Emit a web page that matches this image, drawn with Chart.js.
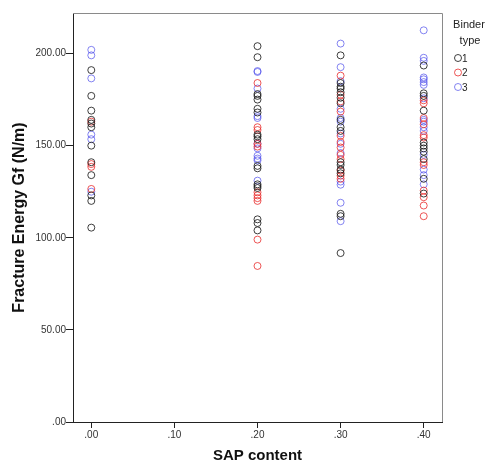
<!DOCTYPE html>
<html>
<head>
<meta charset="utf-8">
<script src="https://cdn.jsdelivr.net/npm/chart.js@4"></script>
<style>
  body { margin: 0; background: #fff; }
  #wrap { width: 489px; height: 464px; }
</style>
</head>
<body>
<div id="wrap"><canvas id="chart"></canvas></div>
<script>
// SAP content levels where measurements were taken
var sapLevels = [0, 0.2, 0.3, 0.4];
var xTickValues = [0, 0.1, 0.2, 0.3, 0.4];
var yTickValues = [0, 50, 100, 150, 200];
var binderLabels = ['1', '2', '3'];

// Fracture energy Gf (N/m), one list per SAP level
var gfBinder1 = [
	[191, 177, 169, 164, 162, 160, 150, 141, 134, 123, 120, 105.5],
	[204, 198, 178, 177, 175, 170, 168, 156, 155, 153.5, 139, 137.7, 129, 128, 127, 110, 108, 104],
	[199, 184, 182, 181, 179, 176, 173, 164, 160, 158, 141, 139.5, 137, 135, 113, 111.7, 91.7],
	[193.5, 178.4, 177, 169, 151.7, 150, 148.5, 146.7, 142.7, 132, 124]
];
var gfBinder2 = [
	[163, 140, 138.5, 126.5],
	[184, 160, 158.5, 151, 149.5, 124.7, 123, 121.5, 120, 99, 84.7],
	[188, 177.6, 174, 168.5, 155.3, 152, 149, 145, 142.7, 136.4, 133.7, 132],
	[174.6, 173, 165, 161.6, 155.7, 154.4, 141, 139.5, 125.6, 122, 117.5, 111.7]
];
var gfBinder3 = [
	[202, 199, 186.5, 156, 153.5, 125],
	[190.5, 190, 181, 166, 165, 151, 148.5, 144.5, 143, 142, 131],
	[205.4, 192.6, 185, 170, 165, 163, 156.6, 151, 146, 130.5, 128.8, 119, 109],
	[212.6, 197.7, 196, 187, 186, 184.5, 183, 175.7, 164, 163, 160, 158, 145, 137, 134, 129]
];

var colors = ['rgba(30,30,30,0.85)', 'rgba(232,45,45,0.8)', 'rgba(80,80,235,0.7)'];
var FONT = 'Liberation Sans, Arial, sans-serif';

function toPoints(groups){
	var pts = [];
	groups.forEach(function(list, i){
		list.forEach(function(v){
			pts.push({x: sapLevels[i], y: v});
		});
	});
	return pts;
}

function fmt(v){
	return v.toFixed(2).replace(/^0\./, '.');
}

// SPSS style box + legend on the right
var framePlugin = {
	id: 'frame',
	afterDraw: function(chart){
		var ctx = chart.ctx;
		var a = chart.chartArea;
		ctx.save();
		ctx.strokeStyle = '#8a8a8a';
		ctx.lineWidth = 1;
		ctx.beginPath();
		ctx.moveTo(a.left, a.top + 0.5);
		ctx.lineTo(a.right + 0.5, a.top + 0.5);
		ctx.lineTo(a.right + 0.5, a.bottom);
		ctx.stroke();

		ctx.fillStyle = '#222';
		ctx.font = '11px ' + FONT;
		ctx.textAlign = 'center';
		ctx.textBaseline = 'middle';
		ctx.fillText('Binder', 469, 25);
		ctx.fillText('type', 470, 41);
		ctx.textAlign = 'left';
		chart.data.datasets.forEach(function(ds, i){
			var y = 58 + i * 14.5;
			ctx.strokeStyle = ds.borderColor;
			ctx.beginPath();
			ctx.arc(458, y, 3.5, 0, Math.PI * 2);
			ctx.stroke();
			ctx.fillStyle = '#222';
			ctx.font = '10px ' + FONT;
			ctx.fillText(ds.label, 462, y + 1);
		});
		ctx.restore();
	}
};

var datasets = [gfBinder1, gfBinder2, gfBinder3].map(function(g, i){
	return {
		label: binderLabels[i],
		data: toPoints(g),
		borderColor: colors[i],
		backgroundColor: 'rgba(0,0,0,0)',
		pointRadius: 3.5,
		pointBorderWidth: 1,
		pointHoverRadius: 3.5
	};
});

new Chart(document.getElementById('chart').getContext('2d'), {
	type: 'scatter',
	data: {datasets: datasets},
	plugins: [framePlugin],
	options: {
		responsive: true,
		maintainAspectRatio: false,
		animation: false,
		layout: {padding: {top: 13, right: 47, left: 0, bottom: 0}},
		plugins: {
			legend: {display: false},
			tooltip: {enabled: false}
		},
		scales: {
			x: {
				type: 'linear',
				min: -0.022,
				max: 0.422,
				afterFit: function(scale){ scale.height = 42; },
				afterBuildTicks: function(scale){
					scale.ticks = xTickValues.map(function(v){ return {value: v}; });
				},
				ticks: {
					color: '#333',
					font: {family: FONT, size: 10},
					padding: 1,
					maxRotation: 0,
					callback: function(v){ return fmt(v); }
				},
				grid: {drawOnChartArea: false, tickLength: 6, color: '#222'},
				border: {display: true, color: '#222'},
				title: {
					display: true,
					text: 'SAP content',
					color: '#111',
					font: {family: FONT, size: 15, weight: 'bold', lineHeight: 1},
					padding: {top: 0, bottom: 1}
				}
			},
			y: {
				min: 0,
				max: 222,
				afterFit: function(scale){ scale.width = 73; },
				afterBuildTicks: function(scale){
					scale.ticks = yTickValues.map(function(v){ return {value: v}; });
				},
				ticks: {
					color: '#333',
					font: {family: FONT, size: 10},
					padding: 0,
					callback: function(v){ return fmt(v); }
				},
				grid: {drawOnChartArea: false, tickLength: 7, color: '#222'},
				border: {display: true, color: '#222'},
				title: {
					display: true,
					text: 'Fracture Energy Gf (N/m)',
					color: '#111',
					font: {family: FONT, size: 16, weight: 'bold', lineHeight: 1},
					padding: {top: 12, bottom: 0}
				}
			}
		}
	}
});
</script>
</body>
</html>
